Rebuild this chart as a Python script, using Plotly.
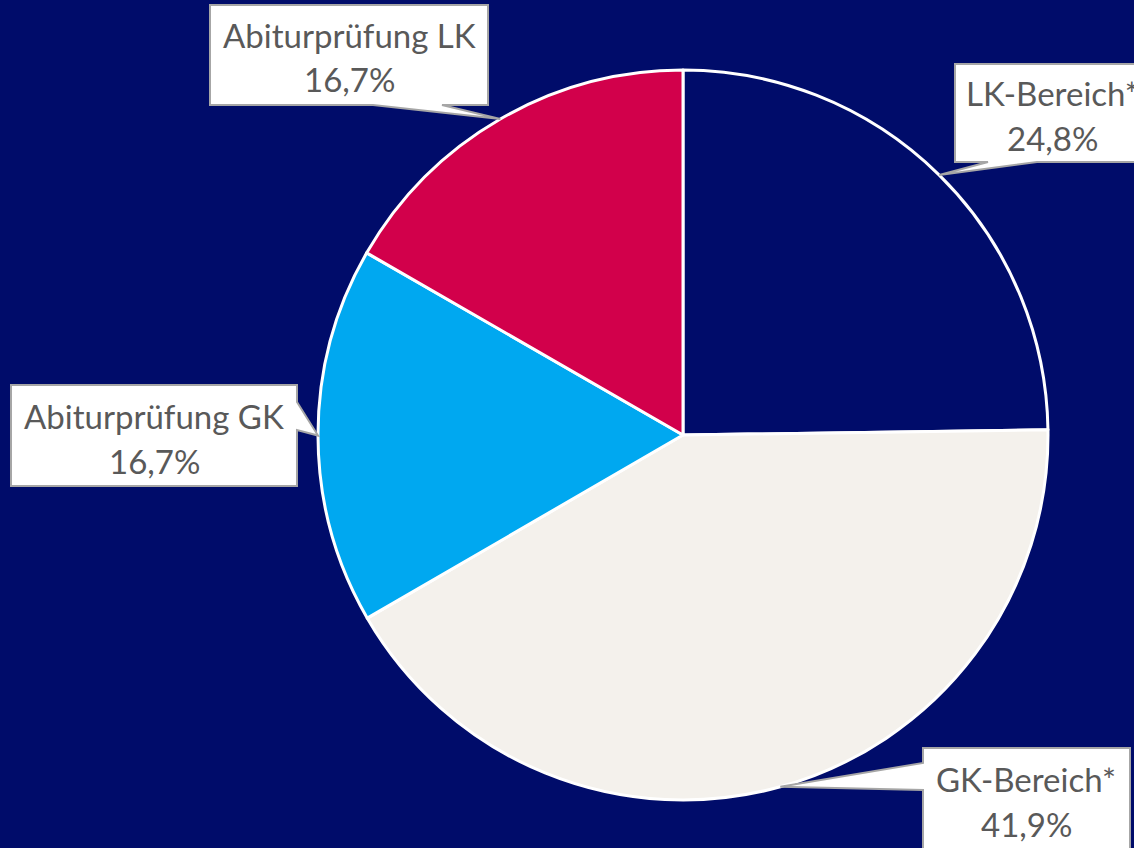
import math
import plotly.graph_objects as go

# ---- data ----
labels = ["LK-Bereich*", "GK-Bereich*", "Abiturprüfung GK", "Abiturprüfung LK"]
values = [24.8, 41.9, 16.7, 16.7]
colors = ["#000C6A", "#F4F1EC", "#00A8F0", "#D2004B"]

W, H = 1134, 848
BG = "#000C6A"
CX, CY, R = 683, 435, 365  # pie centre / radius in pixels (layout)

def px(x):
    return x / W

def py(y):
    return 1 - y / H

fig = go.Figure()
fig.add_trace(go.Pie(
    labels=labels, values=values, sort=False, direction="clockwise", rotation=0,
    marker=dict(colors=colors, line=dict(color="white", width=3)),
    textinfo="none", hoverinfo="label+percent", showlegend=False,
    domain=dict(x=[px(CX - R), px(CX + R)], y=[py(CY + R), py(CY - R)]),
))

# label boxes (layout): box x0,y0,x1,y1, side of pointer base, base range, text centre x, line centres y
boxes = {
    "LK-Bereich*": dict(box=(955, 64, 1145, 162), side="bottom", base=(988, 1037), tx=1052, ty=(93, 138)),
    "GK-Bereich*": dict(box=(923, 748, 1130, 860), side="left", base=(763, 790), tx=1026, ty=(779, 824)),
    "Abiturprüfung GK": dict(box=(11, 385, 297, 486), side="right", base=(402, 430), tx=154, ty=(416, 461)),
    "Abiturprüfung LK": dict(box=(210, 5, 488, 105), side="bottom", base=(373, 442), tx=349, ty=(35, 79)),
}

total = sum(values)
cum = 0.0
shapes = []
annotations = []
for lab, v in zip(labels, values):
    mid = (cum + v / 2) / total
    cum += v
    th = 2 * math.pi * mid
    tipx = CX + R * math.sin(th)
    tipy = CY - R * math.cos(th)
    b = boxes[lab]
    x0, y0, x1, y1 = b["box"]
    a0, a1 = b["base"]
    if b["side"] == "bottom":
        pts = [(x0, y0), (x1, y0), (x1, y1), (a1, y1), (tipx, tipy), (a0, y1), (x0, y1)]
    elif b["side"] == "left":
        pts = [(x0, y0), (x1, y0), (x1, y1), (x0, y1), (x0, a1), (tipx, tipy), (x0, a0)]
    else:  # right
        pts = [(x0, y0), (x1, y0), (x1, a0), (tipx, tipy), (x1, a1), (x1, y1), (x0, y1)]
    path = "M " + " L ".join(f"{px(x):.5f},{py(y):.5f}" for x, y in pts) + " Z"
    shapes.append(dict(type="path", path=path, xref="paper", yref="paper",
                       fillcolor="white", line=dict(color="#A6A6A6", width=2), layer="above"))
    pct = f"{v:.1f}".replace(".", ",") + "%"
    for txt, yy in zip([lab, pct], b["ty"]):
        annotations.append(dict(text=txt, x=px(b["tx"]), y=py(yy), xref="paper", yref="paper",
                                xanchor="center", yanchor="middle", showarrow=False,
                                font=dict(family="Lato", size=33, color="#595959")))

fig.update_layout(
    width=W, height=H, margin=dict(l=0, r=0, t=0, b=0),
    paper_bgcolor=BG, plot_bgcolor=BG,
    shapes=shapes, annotations=annotations,
)
fig.write_html("out.html", config={"displayModeBar": False},
               post_script="document.body.style.margin='0';document.body.style.overflow='hidden';")
